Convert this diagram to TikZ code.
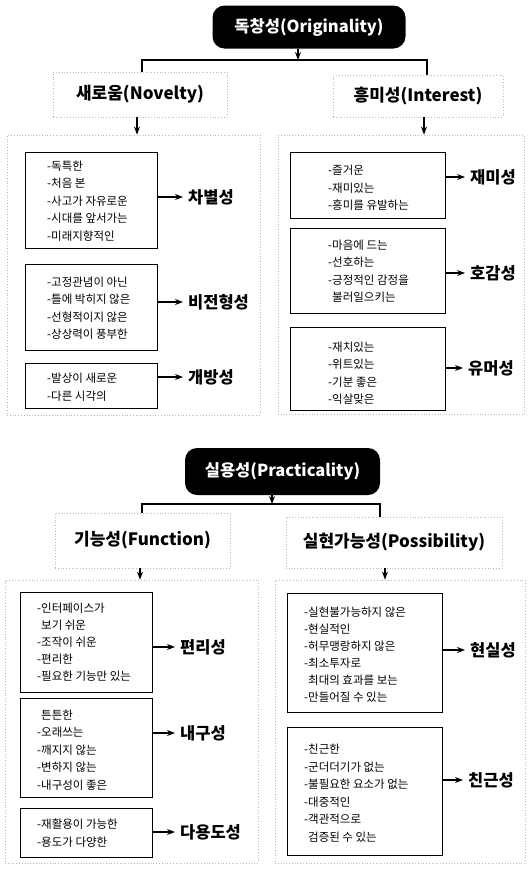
\documentclass[tikz,border=0pt]{standalone}
\usepackage{fontspec}
\setmainfont{Noto Sans CJK KR}
\usetikzlibrary{arrows.meta,calc}
\newcommand\mkbox[7][]{%
  \node[#2,#1,minimum width={#5-#3},minimum height={#6-#4}] (#7) at ({(#3+#5)/2},{(#4+#6)/2}) {};}
\begin{document}
\begin{tikzpicture}[x=1pt,y=-1pt,
  outer/.style={draw=gray!55, dotted, line width=0.8pt, inner sep=0pt},
  head/.style={draw=gray!55, dotted, line width=0.8pt, inner sep=0pt, font=\fontsize{17}{20}\selectfont\bfseries},
  ibox/.style={draw=black, line width=0.7pt, inner sep=0pt},
  items/.style={anchor=west, align=left, inner sep=0pt, font=\fontsize{11.5}{17.5}\selectfont},
  cat/.style={anchor=west, inner sep=0pt, font=\fontsize{16.5}{19}\selectfont\bfseries},
  pill/.style={fill=black, rounded corners=12pt, text=white, inner sep=0pt, font=\fontsize{16.5}{19}\selectfont\bfseries},
  conn/.style={line width=1.1pt},
  arr/.style={line width=1.1pt, -{Stealth[length=8pt,width=6pt]}},
  catarr/.style={arr, shorten >=5pt},
]
\useasboundingbox (0,0) rectangle (530,870);

% ---------- Originality ----------
\node[pill, minimum width=193pt, minimum height=43pt] (p1) at (309,27) {독창성(Originality)};
\coordinate (j1) at (298,60);
\coordinate (hl1) at (142,60);
\coordinate (hr1) at (427,60);
\draw[arr] (p1.south -| j1) -- (j1);

\node[head, minimum width=174pt, minimum height=45pt] (nov) at (140,94.5) {새로움(Novelty)};
\node[head, minimum width=170pt, minimum height=42pt] (int) at (418,96) {흥미성(Interest)};
\draw[conn] (nov.north -| hl1) -- (hl1) -- (hr1) -- (int.north -| hr1);

\mkbox{outer}{7}{135}{260}{415}{L1}
\mkbox{outer}{278}{135}{524}{414}{R1}
\coordinate (a1) at (137,0);
\coordinate (a2) at (424,0);
\draw[arr] (nov.south -| a1) -- (L1.north -| a1);
\draw[arr] (int.south -| a2) -- (R1.north -| a2);

% left column
\mkbox{ibox}{25}{152}{157}{248}{b1}
\node[items] (t1) at (47,201) {-독특한\\-처음 본\\-사고가 자유로운\\-시대를 앞서가는\\-미래지향적인};
\node[cat] (k1) at (188,197) {차별성};
\draw[catarr] (k1.west -| b1.east) -- (k1.west);

\mkbox{ibox}{25}{264}{157}{350}{b2}
\node[items] (t2) at (47,308) {-고정관념이 아닌\\-틀에 박히지 않은\\-선형적이지 않은\\-상상력이 풍부한};
\node[cat] (k2) at (188,302) {비전형성};
\draw[catarr] (k2.west -| b2.east) -- (k2.west);

\mkbox{ibox}{25}{363}{157}{408}{b3}
\node[items] (t3) at (47,387) {-발상이 새로운\\-다른 시각의};
\node[cat] (k3) at (188,377) {개방성};
\draw[catarr] (k3.west -| b3.east) -- (k3.west);

% right column
\mkbox{ibox}{290}{152}{445}{218}{c1}
\node[items] (t4) at (328,188) {-즐거운\\-재미있는\\-흥미를 유발하는};
\node[cat] (k4) at (470,177) {재미성};
\draw[catarr] (k4.west -| c1.east) -- (k4.west);

\mkbox{ibox}{290}{228}{445}{313}{c2}
\node[items] (t5) at (328,271) {-마음에 드는\\-선호하는\\-긍정적인 감정을\\\phantom{-}불러일으키는};
\node[cat] (k5) at (470,273) {호감성};
\draw[catarr] (k5.west -| c2.east) -- (k5.west);

\mkbox{ibox}{290}{327}{445}{410}{c3}
\node[items] (t6) at (328,373) {-재치있는\\-위트있는\\-기분 좋은\\-익살맞은};
\node[cat] (k6) at (468,368) {유머성};
\draw[catarr] (k6.west -| c3.east) -- (k6.west);

% ---------- Practicality ----------
\node[pill, minimum width=195pt, minimum height=47pt] (p2) at (282.5,471.5) {실용성(Practicality)};
\coordinate (j2) at (272,504);
\coordinate (hl2) at (142,504);
\coordinate (hr2) at (380,504);
\draw[arr] (p2.south -| j2) -- (j2);

\node[head, minimum width=175pt, minimum height=55pt] (fun) at (142.5,540.5) {기능성(Function)};
\node[head, minimum width=216pt, minimum height=51pt] (pos) at (394,542.5) {실현가능성(Possibility)};
\draw[conn] (fun.north -| hl2) -- (hl2) -- (hr2) -- (pos.north -| hr2);

\mkbox{outer}{5}{580}{258}{863}{L2}
\mkbox{outer}{275}{580}{525}{863}{R2}
\coordinate (a3) at (140,0);
\coordinate (a4) at (385,0);
\draw[arr] (fun.south -| a3) -- (L2.north -| a3);
\draw[arr] (pos.south -| a4) -- (R2.north -| a4);

% left column
\mkbox{ibox}{20}{592}{152}{692}{d1}
\node[items, font=\fontsize{11.5}{17}\selectfont] (t7) at (37,642) {-인터페이스가\\\phantom{-}보기 쉬운\\-조작이 쉬운\\-편리한\\-필요한 기능만 있는};
\node[cat] (k7) at (180,647) {편리성};
\draw[catarr] (k7.west -| d1.east) -- (k7.west);

\mkbox{ibox}{20}{698}{152}{797}{d2}
\node[items] (t8) at (37,750) {\phantom{-}튼튼한\\-오래쓰는\\-깨지지 않는\\-변하지 않는\\-내구성이 좋은};
\node[cat] (k8) at (180,733) {내구성};
\draw[catarr] (k8.west -| d2.east) -- (k8.west);

\mkbox{ibox}{20}{808}{152}{857}{d3}
\node[items] (t9) at (37,833) {-재활용이 가능한\\-용도가 다양한};
\node[cat] (k9) at (180,832) {다용도성};
\draw[catarr] (k9.west -| d3.east) -- (k9.west);

% right column
\mkbox{ibox}{287}{593}{442}{712}{e1}
\node[items, font=\fontsize{11.5}{17}\selectfont] (t10) at (304,655) {-실현불가능하지 않은\\-현실적인\\-허무맹랑하지 않은\\-최소투자로\\\phantom{-}최대의 효과를 보는\\-만들어질 수 있는};
\node[cat] (k10) at (470,650) {현실성};
\draw[catarr] (k10.west -| e1.east) -- (k10.west);

\mkbox{ibox}{287}{727}{442}{855}{e2}
\node[items] (t11) at (304,793) {-친근한\\-군더더기가 없는\\-불필요한 요소가 없는\\-대중적인\\-객관적으로\\\phantom{-}검증된 수 있는};
\node[cat] (k11) at (468,780) {친근성};
\draw[catarr] (k11.west -| e2.east) -- (k11.west);
\end{tikzpicture}
\end{document}
